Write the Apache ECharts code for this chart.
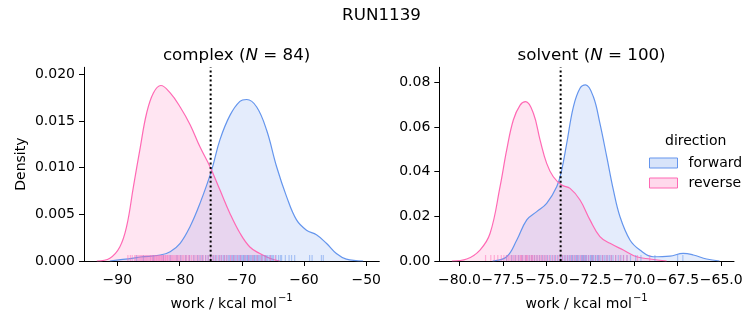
<!DOCTYPE html>
<html><head><meta charset="utf-8">
<script src="https://cdn.jsdelivr.net/npm/echarts@6/dist/echarts.min.js"></script>
<style>html,body{margin:0;padding:0;background:#fff}#c{width:753px;height:325px}</style>
</head><body><div id="c"></div>
<script>
// ---- data ----
const suptitle = 'RUN1139';
const panelNames = ['complex', 'solvent'];
const panelN = [84, 100];
const seriesNames = ['forward', 'reverse'];
const xLabelTicksComplex = [-90, -80, -70, -60, -50];
const xLabelTicksSolvent = [-80, -77.5, -75, -72.5, -70, -67.5, -65];
const yTicksComplex = [0, 0.005, 0.010, 0.015, 0.020];
const yTicksSolvent = [0, 0.02, 0.04, 0.06, 0.08];
const meanLineComplex = -75.0;
const meanLineSolvent = -74.2;

// KDE curves (work, density)
const complexFwdX = [-91.2,-87.4,-86.3,-83.1,-81.5,-79.9,-78.3,-76.7,-74.9,-73.5,-71.9,-70.3,-69.2,-67.6,-66.0,-64.4,-62.8,-61.2,-59.6,-58.0,-56.4,-54.8,-53.2,-50.5];
const complexFwdY = [0,0.0003,0.00043,0.00064,0.001,0.0019,0.0037,0.0062,0.0096,0.013,0.0156,0.0171,0.0173,0.0165,0.014,0.0101,0.0069,0.0044,0.0033,0.0028,0.0019,0.0008,0.0002,0];
const complexRevX = [-93.3,-91.2,-89.6,-88.5,-87.4,-86.3,-85.3,-84.2,-83.0,-81.5,-79.9,-78.3,-76.7,-75.1,-73.5,-71.9,-70.3,-68.7,-67.1,-65.5,-63.9];
const complexRevY = [0,0.0003,0.0015,0.0037,0.008,0.0122,0.0158,0.018,0.0188,0.018,0.0165,0.0146,0.0122,0.0101,0.0076,0.0051,0.003,0.0015,0.0008,0.0003,0];
const solventFwdX = [-78.1,-77.29,-76.71,-76.14,-75.57,-75.0,-74.42,-74.14,-73.85,-73.47,-73.09,-72.77,-72.33,-71.95,-71.56,-71.18,-70.8,-70.23,-69.66,-68.9,-67.94,-67.18,-66.6,-65.84,-65.1];
const solventFwdY = [0,0.0019,0.0094,0.0184,0.0221,0.0258,0.0333,0.0407,0.0527,0.069,0.0773,0.0788,0.0736,0.0616,0.0467,0.0318,0.0198,0.0094,0.0049,0.0019,0.0022,0.0034,0.0027,0.0009,0];
const solventRevX = [-80.43,-79.58,-78.82,-78.24,-77.67,-77.29,-76.91,-76.52,-76.2,-75.76,-75.38,-75.0,-74.62,-74.14,-73.66,-73.09,-72.52,-71.95,-71.37,-70.61,-69.85,-69.08,-68.13];
const solventRevY = [0,0.0009,0.0049,0.0124,0.0333,0.0497,0.0631,0.0698,0.0713,0.0661,0.0542,0.0437,0.0377,0.034,0.0325,0.0273,0.0184,0.0109,0.0079,0.0049,0.0019,0.0009,0];

// rug samples (work values)
const complexFwdRug = [-86.9,-85.8,-84.2,-82.6,-81.5,-80.4,-79.8,-79.0,-78.4,-77.7,-77.1,-76.7,-76.3,-75.8,-75.4,-75.0,-74.6,-74.3,-74.0,-73.6,-73.3,-73.0,-72.8,-72.5,-72.2,-72.0,-71.7,-71.5,-71.3,-71.1,-70.9,-70.6,-70.4,-70.2,-70.0,-69.8,-69.7,-69.5,-69.3,-69.1,-69.0,-68.8,-68.6,-68.4,-68.2,-68.0,-67.9,-67.7,-67.5,-67.3,-67.1,-66.9,-66.7,-66.4,-66.2,-66.0,-65.8,-65.5,-65.3,-65.1,-64.9,-64.5,-64.1,-63.8,-63.6,-63.0,-62.4,-62.0,-61.5,-59.1,-58.7,-57.2,-56.9];
const complexRevRug = [-88.3,-87.9,-87.6,-87.2,-87.0,-86.7,-86.5,-86.3,-86.1,-85.9,-85.7,-85.5,-85.3,-85.1,-84.9,-84.7,-84.6,-84.4,-84.3,-84.1,-84.0,-83.8,-83.7,-83.5,-83.4,-83.2,-83.1,-82.9,-82.8,-82.6,-82.5,-82.3,-82.2,-82.0,-81.9,-81.7,-81.5,-81.3,-81.1,-80.9,-80.7,-80.5,-80.3,-80.1,-79.9,-79.6,-79.4,-79.1,-78.9,-78.6,-78.4,-78.1,-77.8,-77.5,-77.2,-76.9,-76.5,-76.2,-75.8,-75.4,-75.0,-74.6,-74.2,-73.7,-73.3,-72.8,-72.4,-71.8,-71.3,-70.7,-70.2,-69.5,-68.9,-68.2,-67.5,-66.8,-66.2,-65.4,-64.6];
const solventFwdRug = [-77.3,-77.0,-76.8,-76.6,-76.4,-76.2,-76.0,-75.85,-75.7,-75.55,-75.4,-75.25,-75.1,-74.95,-74.8,-74.65,-74.5,-74.35,-74.2,-74.1,-74.0,-73.9,-73.8,-73.7,-73.6,-73.55,-73.5,-73.4,-73.3,-73.25,-73.2,-73.1,-73.0,-72.95,-72.9,-72.85,-72.8,-72.75,-72.7,-72.6,-72.5,-72.45,-72.4,-72.35,-72.3,-72.2,-72.1,-72.05,-72.0,-71.9,-71.8,-71.7,-71.6,-71.5,-71.4,-71.3,-71.2,-71.05,-70.9,-70.75,-70.6,-70.4,-70.2,-69.9,-69.6,-68.8,-67.5,-67.2];
const solventRevRug = [-78.5,-78.2,-78.0,-77.8,-77.6,-77.45,-77.3,-77.2,-77.1,-77.0,-76.9,-76.8,-76.7,-76.6,-76.5,-76.45,-76.4,-76.3,-76.2,-76.15,-76.1,-76.0,-75.9,-75.85,-75.8,-75.7,-75.6,-75.5,-75.4,-75.3,-75.2,-75.1,-75.0,-74.85,-74.7,-74.55,-74.4,-74.25,-74.1,-73.95,-73.8,-73.65,-73.5,-73.35,-73.2,-73.05,-72.9,-72.75,-72.6,-72.4,-72.2,-72.0,-71.8,-71.55,-71.3,-71.05,-70.8,-70.6,-70.4,-69.8,-69.1];

// ---- style ----
const FONT = 'DejaVu Sans';
const BLUE = '#6495ED', PINK = '#FF69B4';
const BLUE_F = 'rgba(100,149,237,0.25)', PINK_F = 'rgba(255,105,180,0.25)';
const minus = s => String(s).replace(/-/g, '\u2212');

const ranges = [
  {xmin: -95.35, xmax: -47.9, ymax: 0.02075, xt: xLabelTicksComplex, yt: yTicksComplex, xd: 0, yd: 3},
  {xmin: -81.15, xmax: -64.27, ymax: 0.0867, xt: xLabelTicksSolvent, yt: yTicksSolvent, xd: 1, yd: 2}
];
const grids = [
  {left: 84, top: 67.3, width: 295.3, height: 193.7},
  {left: 439.3, top: 67.3, width: 294.7, height: 193.7}
];

const axisCommon = {
  axisLine: {show: true, lineStyle: {color: '#000', width: 1}},
  splitLine: {show: false},
};
const xAxes = ranges.map((r, i) => Object.assign({}, axisCommon, {
  type: 'value', gridIndex: i, min: r.xmin, max: r.xmax,
  axisTick: {show: true, length: 5, lineStyle: {color: '#000', width: 1}, customValues: r.xt},
  axisLabel: {customValues: r.xt, margin: 12, color: '#000', fontSize: 14, fontFamily: FONT,
    formatter: v => minus(v.toFixed(r.xd))},
  name: '{a|work / kcal mol}{s|\u22121}', nameLocation: 'middle', nameGap: 32,
  nameTextStyle: {rich: {
    a: {fontSize: 14, fontFamily: FONT, color: '#000', lineHeight: 18, verticalAlign: 'bottom'},
    s: {fontSize: 10, fontFamily: FONT, color: '#000', lineHeight: 18, verticalAlign: 'top', padding: [0,0,8,1]}
  }}
}));
const yAxes = ranges.map((r, i) => Object.assign({}, axisCommon, {
  type: 'value', gridIndex: i, min: 0, max: r.ymax,
  axisTick: {show: true, length: 5, lineStyle: {color: '#000', width: 1}, customValues: r.yt},
  axisLabel: {customValues: r.yt, margin: 9, color: '#000', fontSize: 14, fontFamily: FONT,
    formatter: v => v.toFixed(r.yd)},
  name: i === 0 ? 'Density' : '', nameLocation: 'middle', nameGap: 56,
  nameTextStyle: {fontSize: 14, fontFamily: FONT, color: '#000'}
}));

const zip = (xs, ys) => xs.map((x, k) => [x, ys[k]]);
function kde(name, i, xs, ys, line, fill) {
  return {type: 'line', name, xAxisIndex: i, yAxisIndex: i, data: zip(xs, ys),
    smooth: 0.4, symbol: 'none', silent: true,
    lineStyle: {color: line, width: 1.2}, itemStyle: {color: line},
    areaStyle: {color: fill, origin: 'start'}};
}
function rug(name, i, vals, color) {
  return {type: 'scatter', name, xAxisIndex: i, yAxisIndex: i, data: vals.map(v => [v, 0]),
    symbol: 'rect', symbolSize: [1.2, 6], symbolOffset: [0, -3], silent: true, z: 3,
    itemStyle: {color}};
}
function vline(i, x, ymax) {
  return {type: 'line', name: 'mean' + i, xAxisIndex: i, yAxisIndex: i, data: [[x, 0], [x, ymax]],
    symbol: 'none', silent: true, z: 4, lineStyle: {color: '#000', width: 2, type: [2, 2.6]}};
}

const series = [
  kde('forward', 0, complexFwdX, complexFwdY, BLUE, BLUE_F),
  kde('reverse', 0, complexRevX, complexRevY, PINK, PINK_F),
  kde('forward', 1, solventFwdX, solventFwdY, BLUE, BLUE_F),
  kde('reverse', 1, solventRevX, solventRevY, PINK, PINK_F),
  rug('forward rug', 0, complexFwdRug, 'rgba(100,149,237,0.6)'),
  rug('reverse rug', 0, complexRevRug, 'rgba(255,105,180,0.6)'),
  rug('forward rug', 1, solventFwdRug, 'rgba(100,149,237,0.6)'),
  rug('reverse rug', 1, solventRevRug, 'rgba(255,105,180,0.6)'),
  vline(0, meanLineComplex, ranges[0].ymax),
  vline(1, meanLineSolvent, ranges[1].ymax)
];

const titleRich = {
  a: {fontSize: 16.7, fontFamily: FONT, fontWeight: 'normal', color: '#000'},
  i: {fontSize: 16.7, fontFamily: FONT, fontWeight: 'normal', fontStyle: 'italic', color: '#000'}
};
const chart = echarts.init(document.getElementById('c'), null, {renderer: 'canvas'});
chart.setOption({
  animation: false,
  backgroundColor: '#fff',
  title: [
    {text: suptitle, left: 376.5, top: 2, textAlign: 'center',
      textStyle: {fontSize: 16.7, fontFamily: FONT, fontWeight: 'normal', color: '#000'}},
    {text: `{a|${panelNames[0]} (}{i|N}{a| = ${panelN[0]})}`, left: 231.6, top: 42, textAlign: 'center',
      textStyle: {fontWeight: 'normal', rich: titleRich}},
    {text: `{a|${panelNames[1]} (}{i|N}{a| = ${panelN[1]})}`, left: 586.6, top: 42, textAlign: 'center',
      textStyle: {fontWeight: 'normal', rich: titleRich}}
  ],
  grid: grids,
  xAxis: xAxes,
  yAxis: yAxes,
  legend: {
    orient: 'vertical', left: 649, top: 156, padding: 0, itemWidth: 28, itemHeight: 10, itemGap: 6,
    selectedMode: false,
    textStyle: {fontSize: 14, fontFamily: FONT, color: '#000', padding: [0, 0, 0, 6]},
    data: [
      {name: 'forward', icon: 'rect', itemStyle: {color: BLUE_F, borderColor: BLUE, borderWidth: 1}},
      {name: 'reverse', icon: 'rect', itemStyle: {color: PINK_F, borderColor: PINK, borderWidth: 1}}
    ]
  },
  graphic: [
    {type: 'text', left: 665, top: 134, style: {text: 'direction', fontSize: 14, fontFamily: FONT, fill: '#000'}}
  ],
  series
});
</script></body></html>
